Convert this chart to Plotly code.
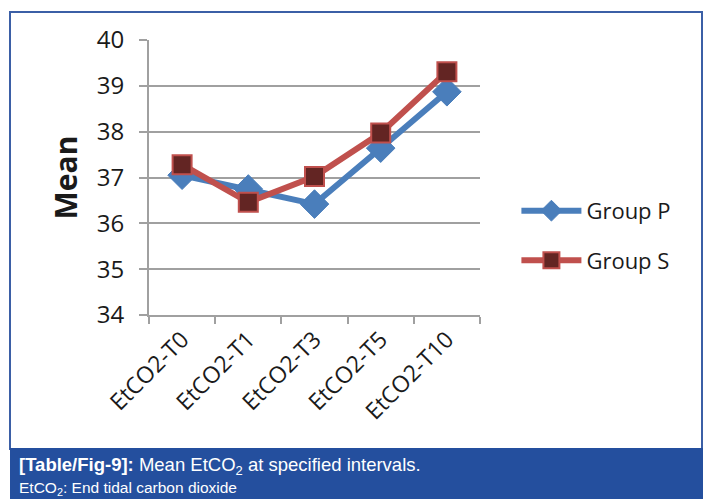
import plotly.graph_objects as go

categories = ["EtCO2-T0", "EtCO2-T1", "EtCO2-T3", "EtCO2-T5", "EtCO2-T10"]
group_p = [37.05, 36.75, 36.42, 37.64, 38.87]
group_s = [37.28, 36.46, 37.02, 37.97, 39.31]
y_ticks = [34, 35, 36, 37, 38, 39, 40]

fig = go.Figure()
fig.add_trace(go.Scatter(
    x=categories, y=group_p, name="Group P", mode="lines+markers", legendgroup="p",
    line=dict(color="#4a7ebb", width=6),
    marker=dict(symbol="diamond", size=22, color="#4a7ebb", line=dict(color="#4a7ebb", width=1)),
))
fig.add_trace(go.Scatter(
    x=categories, y=group_s, name="Group S", mode="lines+markers", legendgroup="s",
    line=dict(color="#c0504d", width=6),
    marker=dict(symbol="square", size=19, color="#632523", line=dict(color="#c0504d", width=2)),
))

W, H = 706, 499
fig.update_layout(
    width=W, height=H,
    margin=dict(l=149, r=226, t=40, b=184),
    paper_bgcolor="white", plot_bgcolor="white",
    font=dict(family="Open Sans, Liberation Sans, sans-serif", color="#1a1a1a"),
    showlegend=True,
    legend=dict(x=1.11, y=0.455, xanchor="left", yanchor="top",
                font=dict(size=22, color="#1a1a1a"), tracegroupgap=18,
                itemwidth=60, bgcolor="rgba(0,0,0,0)"),
    xaxis=dict(
        type="category", range=[-0.5, 4.5], tickson="boundaries",
        ticks="outside", ticklen=7, tickcolor="#a0a0a0", tickwidth=2,
        showgrid=False, showline=True, linecolor="#a0a0a0", linewidth=2,
        tickangle=-45, tickfont=dict(size=23, family="Open Sans, sans-serif"),
    ),
    yaxis=dict(
        range=[34, 40], tickvals=y_ticks, ticks="outside", ticklen=8,
        tickcolor="#a0a0a0", tickwidth=2, ticklabelstandoff=10,
        showgrid=True, gridcolor="#a0a0a0", gridwidth=2,
        showline=True, linecolor="#a0a0a0", linewidth=2,
        tickfont=dict(size=24, family="Open Sans, sans-serif"),
        title=dict(text="<b>Mean</b>", font=dict(size=30), standoff=10),
        zeroline=False,
    ),
)

pw = W - 149 - 226
ph = H - 40 - 184
def px(x):
    return (x - 149) / pw
def py(y):
    return (H - 184 - y) / ph

fig.add_shape(type="rect", xref="paper", yref="paper",
              x0=px(10), x1=px(702), y0=py(449), y1=py(12),
              line=dict(color="#3b5fa6", width=2), fillcolor="rgba(0,0,0,0)", layer="below")
fig.add_shape(type="rect", xref="paper", yref="paper",
              x0=px(10), x1=px(703), y0=py(500), y1=py(448),
              line=dict(width=0), fillcolor="#244f9e", layer="above")
fig.add_annotation(xref="paper", yref="paper", x=px(17), y=py(466),
                   xanchor="left", yanchor="middle", showarrow=False,
                   text="<b>[Table/Fig-9]:</b> Mean EtCO<sub>2</sub> at specified intervals.",
                   font=dict(size=18.5, color="white", family="Liberation Sans Narrow, Liberation Sans, sans-serif"))
fig.add_annotation(xref="paper", yref="paper", x=px(17), y=py(488),
                   xanchor="left", yanchor="middle", showarrow=False,
                   text="EtCO<sub>2</sub>: End tidal carbon dioxide",
                   font=dict(size=15.5, color="white", family="Liberation Sans Narrow, Liberation Sans, sans-serif"))

fig.write_html("out.html")
